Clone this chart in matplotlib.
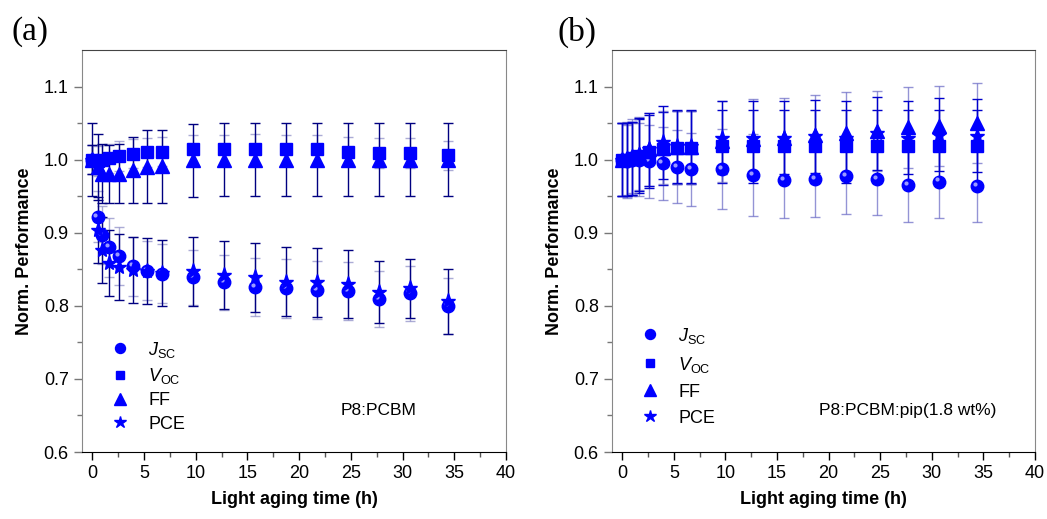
import matplotlib
matplotlib.use("Agg")
import matplotlib.pyplot as plt
import numpy as np

plt.rcParams['font.family'] = ['Liberation Sans', 'DejaVu Sans']
plt.rcParams['mathtext.fontset'] = 'custom'
plt.rcParams['mathtext.rm'] = 'Liberation Sans'
plt.rcParams['mathtext.it'] = 'Liberation Sans:italic'

# ---- data ----
hours = [0, 0.5, 0.95, 1.6, 2.6, 3.9, 5.3, 6.7, 9.7, 12.7, 15.7, 18.7, 21.7, 24.7, 27.7, 30.7, 34.4]

# panel (a) P8:PCBM
a_jsc = [1.0, 0.922, 0.897, 0.880, 0.868, 0.854, 0.848, 0.844, 0.839, 0.832, 0.826, 0.824, 0.822, 0.820, 0.809, 0.817, 0.800]
a_voc = [1.0, 0.998, 1.0, 1.002, 1.005, 1.008, 1.010, 1.011, 1.014, 1.014, 1.015, 1.014, 1.014, 1.011, 1.009, 1.009, 1.006]
a_ff = [1.0, 0.990, 0.981, 0.980, 0.981, 0.986, 0.990, 0.991, 0.999, 1.0, 1.0, 1.0, 1.0, 1.0, 1.0, 1.0, 1.0]
a_pce = [1.0, 0.904, 0.876, 0.859, 0.853, 0.849, 0.848, 0.845, 0.847, 0.842, 0.839, 0.833, 0.832, 0.830, 0.819, 0.824, 0.806]
a_jsc_err = [0.02, 0.035, 0.04, 0.04, 0.04, 0.04, 0.04, 0.04, 0.038, 0.038, 0.04, 0.04, 0.04, 0.04, 0.038, 0.038, 0.038]
a_voc_err = [0.02, 0.02, 0.02, 0.02, 0.02, 0.02, 0.02, 0.02, 0.02, 0.02, 0.02, 0.02, 0.02, 0.02, 0.02, 0.02, 0.02]
a_ff_err = [0.05, 0.045, 0.04, 0.04, 0.04, 0.045, 0.05, 0.05, 0.05, 0.05, 0.05, 0.05, 0.05, 0.05, 0.05, 0.05, 0.05]
a_pce_err = [0.02, 0.045, 0.045, 0.045, 0.045, 0.045, 0.045, 0.045, 0.047, 0.047, 0.047, 0.047, 0.047, 0.047, 0.042, 0.04, 0.045]

# panel (b) P8:PCBM:pip(1.8 wt%)
b_jsc = [1.0, 0.998, 1.0, 1.0, 0.998, 0.995, 0.990, 0.987, 0.987, 0.979, 0.972, 0.974, 0.977, 0.974, 0.965, 0.970, 0.964]
b_voc = [1.0, 1.0, 1.002, 1.005, 1.011, 1.015, 1.016, 1.016, 1.018, 1.018, 1.018, 1.018, 1.018, 1.018, 1.018, 1.018, 1.018]
b_ff = [1.0, 1.002, 1.005, 1.008, 1.014, 1.016, 1.017, 1.017, 1.025, 1.028, 1.029, 1.034, 1.037, 1.039, 1.044, 1.046, 1.050]
b_pce = [1.0, 1.0, 1.002, 1.007, 1.014, 1.024, 1.018, 1.018, 1.030, 1.030, 1.030, 1.032, 1.030, 1.036, 1.030, 1.034, 1.033]
b_jsc_err = [0.05, 0.05, 0.05, 0.05, 0.05, 0.05, 0.05, 0.05, 0.055, 0.056, 0.052, 0.052, 0.052, 0.05, 0.05, 0.05, 0.05]
b_voc_err = [0.05, 0.05, 0.05, 0.05, 0.05, 0.05, 0.05, 0.05, 0.05, 0.05, 0.05, 0.05, 0.05, 0.05, 0.05, 0.05, 0.05]
b_ff_err = [0.05, 0.05, 0.05, 0.05, 0.05, 0.05, 0.05, 0.05, 0.055, 0.055, 0.055, 0.055, 0.055, 0.055, 0.055, 0.055, 0.055]
b_pce_err = [0.05, 0.05, 0.05, 0.05, 0.05, 0.05, 0.05, 0.05, 0.05, 0.05, 0.05, 0.05, 0.05, 0.05, 0.05, 0.05, 0.05]

labels = [r'$J_{\mathrm{SC}}$', r'$V_{\mathrm{OC}}$', 'FF', 'PCE']
markers = ['o', 's', '^', '*']
msizes = [9, 8, 10, 11]

fig = plt.figure(figsize=(10.47, 5.19), dpi=100)
axA = fig.add_axes([82/1047, 1-452/519, 424/1047, 402/519])
axB = fig.add_axes([612/1047, 1-452/519, 423/1047, 402/519])

def draw(ax, series, errs, ecols, text, legend_y, lspace):
    for i, (y, e) in enumerate(zip(series, errs)):
        ax.errorbar(hours, y, yerr=e, fmt='none', ecolor=ecols[i][0], alpha=ecols[i][1],
                    elinewidth=1.0, capsize=3.5, capthick=1.0, zorder=2)
    handles = []
    for i, y in enumerate(series):
        h, = ax.plot(hours, y, linestyle='none', marker=markers[i], ms=msizes[i],
                     color='#0000ff', mec='#0000ff', zorder=3, label=labels[i])
        handles.append(h)
        if i == 0:
            # small highlight on the spherical Jsc markers
            ax.plot(hours, y, linestyle='none', marker='o', ms=3,
                    color='#9a9aff', mec='none', zorder=3,
                    transform=ax.transData + matplotlib.transforms.ScaledTranslation(
                        -1.5/72, 1.5/72, fig.dpi_scale_trans))
    ax.set_xlim(-1, 40)
    ax.set_ylim(0.6, 1.15)
    ax.set_xticks(np.arange(0, 41, 5))
    ax.set_yticks([0.6, 0.7, 0.8, 0.9, 1.0, 1.1])
    ax.set_xticks(np.arange(2.5, 40, 5), minor=True)
    ax.set_yticks(np.arange(0.65, 1.15, 0.1), minor=True)
    ax.yaxis.set_major_formatter(matplotlib.ticker.FormatStrFormatter('%.1f'))
    ax.tick_params(which='major', direction='out', length=6, width=1, labelsize=13, colors='black')
    ax.tick_params(which='minor', direction='out', length=3.5, width=1, colors='#555555')
    ax.tick_params(axis='y', which='both', colors='#777777', labelcolor='black')
    ax.spines['bottom'].set_color('black')
    ax.spines['left'].set_color('#888888')
    ax.spines['right'].set_color('#888888')
    ax.spines['top'].set_color('#444444')
    ax.set_xlabel('Light aging time (h)', fontsize=13, fontweight='bold', labelpad=6)
    ax.set_ylabel('Norm. Performance', fontsize=13, fontweight='bold', labelpad=8)
    ax.legend(handles=handles, loc='upper left', bbox_to_anchor=(0.02, legend_y),
              frameon=False, fontsize=13, handletextpad=0.8, labelspacing=lspace,
              markerscale=0.8, handlelength=1.5)
    ax.text(0.70, 0.104, text, transform=ax.transAxes, fontsize=12.5,
            ha='center', va='center')

draw(axA, [a_jsc, a_voc, a_ff, a_pce], [a_jsc_err, a_voc_err, a_ff_err, a_pce_err],
     [('#9090c8', 0.75), ('#9090c8', 0.75), ('#000080', 1.0), ('#000080', 1.0)],
     'P8:PCBM', 0.32, 0.35)
draw(axB, [b_jsc, b_voc, b_ff, b_pce], [b_jsc_err, b_voc_err, b_ff_err, b_pce_err],
     [('#7070c8', 0.75), ('#0000cc', 1.0), ('#7070c8', 0.75), ('#0000cc', 1.0)],
     'P8:PCBM:pip(1.8 wt%)', 0.355, 0.5)

fig.text(30/1047, 1-32/519, '(a)', fontsize=24, family='Liberation Serif', ha='center', va='center')
fig.text(577/1047, 1-32/519, '(b)', fontsize=24, family='Liberation Serif', ha='center', va='center')

fig.savefig('out.png', dpi=100)
